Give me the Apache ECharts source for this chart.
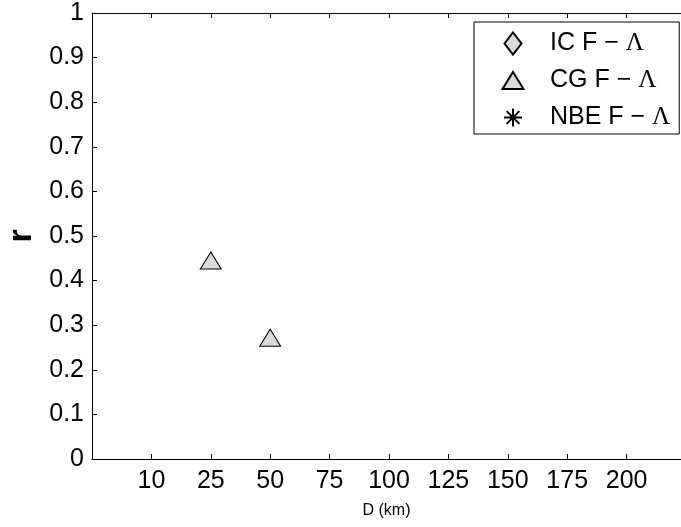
<!DOCTYPE html>
<html>
<head>
<meta charset="utf-8">
<script src="https://cdn.jsdelivr.net/npm/echarts@6/dist/echarts.min.js"></script>
<style>html,body{margin:0;padding:0;background:#fff;}#c{width:681px;height:527px;}</style>
</head>
<body>
<div id="c"></div>
<script>
// ---- data ----
var xCategories = ['10', '25', '50', '75', '100', '125', '150', '175', '200'];
var seriesNames = ['IC F − Λ', 'CG F − Λ', 'NBE F − Λ'];
var icD = [];          var icR = [];
var cgD = ['25', '50']; var cgR = [0.445, 0.272];
var nbeD = [];         var nbeR = [];
var yTicks = ['0', '0.1', '0.2', '0.3', '0.4', '0.5', '0.6', '0.7', '0.8', '0.9', '1'];

function pts(ds, rs) {
  return ds.map(function (d, i) { return [xCategories.indexOf(d) + 1, rs[i]]; });
}

var FONT = 'Liberation Sans';
var diamondIcon = 'path://M0 0M22 22M11 0L19.5 11L11 22L2.5 11Z';
var triangleIcon = 'path://M0 0M22 22M11 2.5L21.5 19.5L0.5 19.5Z';
var starIcon = 'path://M0 0M22 22M11 2L11 20M2 11L20 11M4.6 4.6L17.4 17.4M4.6 17.4L17.4 4.6';

var chart = echarts.init(document.getElementById('c'), null, {renderer: 'canvas'});
chart.setOption({
  animation: false,
  backgroundColor: '#fff',
  grid: {left: 92, top: 13, right: 0, bottom: 68, containLabel: false, outerBoundsMode: 'none'},
  xAxis: [{
    type: 'value', min: 0, max: 9.916, interval: 1, position: 'bottom',
    name: 'D (km)', nameLocation: 'middle', nameGap: 44,
    nameTextStyle: {fontFamily: FONT, fontSize: 16, color: '#000'},
    axisLine: {show: true, lineStyle: {color: '#000', width: 1}},
    axisTick: {show: true, inside: true, length: 5, lineStyle: {color: '#000'}},
    axisLabel: {fontFamily: FONT, fontSize: 25, color: '#000', margin: 10,
      formatter: function (v) { return Math.abs(v - Math.round(v)) < 1e-6 ? (xCategories[Math.round(v) - 1] || '') : ''; }},
    splitLine: {show: false}
  }, {
    type: 'value', min: 0, max: 9.916, interval: 1, position: 'top',
    axisLine: {show: true, lineStyle: {color: '#000', width: 1}},
    axisTick: {show: true, inside: true, length: 5, lineStyle: {color: '#000'}},
    axisLabel: {show: false}, splitLine: {show: false}
  }],
  yAxis: [{
    type: 'value', min: 0, max: 1, interval: 0.1,
    name: 'r', nameLocation: 'middle', nameGap: 51, nameRotate: 90,
    nameTextStyle: {fontFamily: FONT, fontSize: 34, fontWeight: 'bold', color: '#000'},
    axisLine: {show: true, lineStyle: {color: '#000', width: 1}},
    axisTick: {show: true, inside: true, length: 5, lineStyle: {color: '#000'}},
    axisLabel: {fontFamily: FONT, fontSize: 25, color: '#000', margin: 8,
      formatter: function (v) { return yTicks[Math.round(v * 10)]; }},
    splitLine: {show: false}
  }],
  legend: {
    orient: 'vertical', left: 474, top: 22,
    padding: [9, 9, 4, 27],
    itemWidth: 22, itemHeight: 22, itemGap: 12,
    borderColor: '#000', borderWidth: 1, backgroundColor: '#fff',
    selectedMode: false,
    data: [
      {name: seriesNames[0], icon: diamondIcon},
      {name: seriesNames[1], icon: triangleIcon},
      {name: seriesNames[2], icon: starIcon}
    ],
    formatter: function (name) {
      return '{a|' + name.replace('Λ', '}{g|Λ}');
    },
    textStyle: {
      color: '#000',
      rich: {
        a: {fontFamily: FONT, fontSize: 25, color: '#000', padding: [0, 0, 0, 21]},
        g: {fontFamily: 'Liberation Serif', fontSize: 25, color: '#000'}
      }
    }
  },
  series: [{
    name: seriesNames[0], type: 'scatter', symbol: 'diamond', symbolSize: [17, 22],
    itemStyle: {color: '#d9d9d9', borderColor: '#000', borderWidth: 1, opacity: 1},
    data: pts(icD, icR)
  }, {
    name: seriesNames[1], type: 'scatter', symbol: 'triangle', symbolSize: [21, 17],
    itemStyle: {color: '#d9d9d9', borderColor: '#000', borderWidth: 1, opacity: 1},
    data: pts(cgD, cgR)
  }, {
    name: seriesNames[2], type: 'scatter', symbol: starIcon, symbolSize: 22,
    itemStyle: {color: '#000', borderColor: '#000', borderWidth: 1, opacity: 1},
    data: pts(nbeD, nbeR)
  }]
});
</script>
</body>
</html>
